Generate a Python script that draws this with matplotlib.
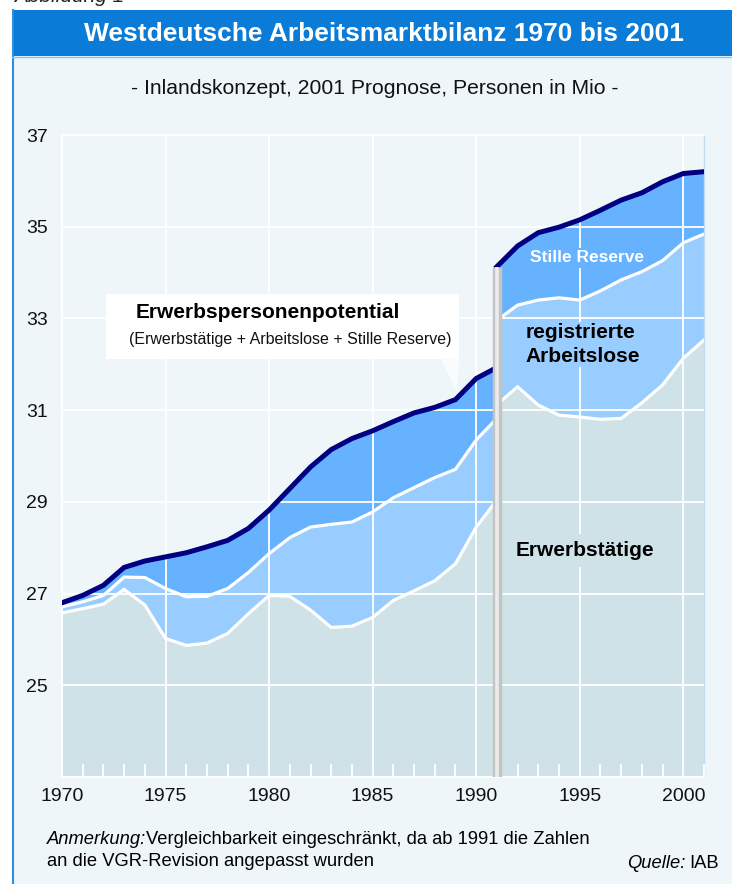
"""
Westdeutsche Arbeitsmarktbilanz 1970 bis 2001 -- Flächendiagramm
"""

import matplotlib

matplotlib.use("Agg")
import matplotlib.pyplot as plt
from matplotlib.patches import Rectangle, Polygon
from matplotlib.ticker import MultipleLocator

plt.rcParams["font.family"] = ["Liberation Sans", "DejaVu Sans"]

# ── Daten (Personen in Mio) ─────────────────────────────────
years_old = list(range(1970, 1992))
years_new = list(range(1991, 2002))

# vor der VGR-Revision (1970-1991)
potential_old = [26.80, 26.96, 27.18, 27.57, 27.71, 27.80, 27.89, 28.02, 28.16, 28.42, 28.82,
                 29.29, 29.76, 30.14, 30.38, 30.55, 30.75, 30.94, 31.06, 31.23, 31.69, 31.93]
erw_al_old = [26.71, 26.82, 26.96, 27.36, 27.35, 27.11, 26.93, 26.94, 27.11, 27.46, 27.87,
              28.22, 28.45, 28.51, 28.56, 28.78, 29.09, 29.31, 29.53, 29.71, 30.35, 30.82]
erwerbstaetige_old = [26.58, 26.67, 26.77, 27.09, 26.75, 26.02, 25.87, 25.92, 26.13, 26.56, 26.96,
                      26.94, 26.64, 26.26, 26.29, 26.48, 26.85, 27.06, 27.28, 27.65, 28.45, 29.04]

# nach der VGR-Revision (1991-2001, 2001 Prognose)
potential_new = [34.13, 34.58, 34.87, 34.99, 35.15, 35.36, 35.58, 35.74, 35.98, 36.16, 36.20]
erw_al_new = [32.96, 33.29, 33.40, 33.45, 33.40, 33.60, 33.84, 34.02, 34.26, 34.65, 34.84]
erwerbstaetige_new = [31.12, 31.51, 31.11, 30.89, 30.85, 30.80, 30.82, 31.16, 31.55, 32.13, 32.53]

C_BG = "#EEF6FA"
C_TITLE = "#0A7CD8"
C_ERW = "#CFE2E8"
C_AL = "#99CCFF"
C_SR = "#66B2FF"
C_NAVY = "#000080"

W, H = 732, 884


def px(x):
    return x / W


def py(y):
    return 1 - y / H


fig = plt.figure(figsize=(W / 100, H / 100), dpi=100, facecolor="white")

# ── Rahmen, Titelbalken ─────────────────────────────────────
fig.patches.append(Rectangle((px(12), 0), 1 - px(12), py(56), transform=fig.transFigure,
                             facecolor=C_BG, edgecolor="none", zorder=-2))
fig.patches.append(Rectangle((px(12), py(56)), 1 - px(12), py(10) - py(56),
                             transform=fig.transFigure, facecolor=C_TITLE,
                             edgecolor="none", zorder=-2))
fig.lines.append(plt.Line2D([px(13), px(13)], [0, py(10)], transform=fig.transFigure,
                            color="#2A8FE0", linewidth=1.5, zorder=-1))
fig.lines.append(plt.Line2D([px(12), 1], [py(56.5), py(56.5)], transform=fig.transFigure,
                            color="#8CC4EE", linewidth=1, zorder=-1))

fig.text(px(14), py(2), "Abbildung 1", fontsize=15, style="italic", color="#222222",
         va="baseline", ha="left")
fig.text(px(384), py(34), "Westdeutsche Arbeitsmarktbilanz 1970 bis 2001",
         fontsize=19, fontweight="bold", color="white", ha="center", va="center")
fig.text(px(375), py(88), "- Inlandskonzept, 2001 Prognose, Personen in Mio -",
         fontsize=15.2, color="#111111", ha="center", va="center")

# ── Diagramm ────────────────────────────────────────────────
ax = fig.add_axes([px(62), py(777), px(704) - px(62), py(135) - py(777)])
ax.set_facecolor(C_BG)

for yrs, erw, eal, pot in [
    (years_old, erwerbstaetige_old, erw_al_old, potential_old),
    (years_new, erwerbstaetige_new, erw_al_new, potential_new),
]:
    ax.fill_between(yrs, 23, erw, color=C_ERW, linewidth=0, zorder=1)
    ax.fill_between(yrs, erw, eal, color=C_AL, linewidth=0, zorder=1)
    ax.fill_between(yrs, eal, pot, color=C_SR, linewidth=0, zorder=1)
    ax.plot(yrs, erw, color="white", linewidth=2.3, zorder=3, solid_joinstyle="miter")
    ax.plot(yrs, eal, color="white", linewidth=2.3, zorder=3, solid_joinstyle="miter")
    ax.plot(yrs, pot, color=C_NAVY, linewidth=3.6, zorder=3, solid_joinstyle="miter")

# Bruch 1991 (VGR-Revision)
ax.plot([1991, 1991], [23, potential_new[0]], color="#C4C4C4", linewidth=6.8,
        solid_capstyle="butt", zorder=4)
ax.plot([1991, 1991], [23, potential_new[0]], color="#ECECEC", linewidth=2.6,
        solid_capstyle="butt", zorder=4)

ax.set_xlim(1970, 2001)
ax.set_ylim(23, 37)
ax.set_xticks(range(1970, 2001, 5))
ax.set_yticks(range(25, 38, 2))
ax.xaxis.set_minor_locator(MultipleLocator(1))
ax.set_axisbelow(False)
ax.grid(True, which="major", color="white", linewidth=1.3)
ax.tick_params(which="major", length=0, labelsize=14, colors="#111111")
ax.tick_params(axis="x", which="major", pad=8)
ax.tick_params(axis="y", which="major", pad=10)
ax.tick_params(axis="x", which="minor", direction="in", length=9.5, width=1.3, color="white")
for s in ["left", "bottom", "top"]:
    ax.spines[s].set_color("white")
    ax.spines[s].set_linewidth(1.5)
ax.spines["right"].set_color("#BFDDF0")
ax.spines["right"].set_linewidth(1)

# Callout Erwerbspersonenpotential
ax.add_patch(Rectangle((1972.13, 32.11), 1989.19 - 1972.13, 33.53 - 32.11,
                       facecolor="white", edgecolor="none", zorder=5))
ax.add_patch(Polygon([(1988.3, 32.12), (1989.19, 32.12), (1989.05, 31.4)], closed=True,
                     facecolor="white", edgecolor="none", alpha=0.7, zorder=5))
ax.text(1979.96, 33.14, "Erwerbspersonenpotential", fontsize=15, fontweight="bold",
        ha="center", va="center", zorder=6)
ax.text(1981.0, 32.55, "(Erwerbstätige + Arbeitslose + Stille Reserve)", fontsize=11.5,
        ha="center", va="center", zorder=6, color="#111111")

# Flächenbeschriftungen
ax.text(1995.33, 34.32, "Stille Reserve", fontsize=12.5, fontweight="bold", color="white",
        ha="center", va="center", zorder=6,
        bbox=dict(facecolor=C_SR, edgecolor="none", pad=2))
ax.text(1992.4, 32.43, "registrierte\nArbeitslose", fontsize=15, fontweight="bold",
        ha="left", va="center", linespacing=1.3, zorder=6,
        bbox=dict(facecolor=C_AL, edgecolor="none", pad=1))
ax.text(1995.23, 27.94, "Erwerbstätige", fontsize=15, fontweight="bold",
        ha="center", va="center", zorder=6,
        bbox=dict(facecolor=C_ERW, edgecolor="none", pad=5))

# ── Fußnoten ────────────────────────────────────────────────
fig.text(px(47), py(839), "Anmerkung:", fontsize=13.2, style="italic", va="center", ha="left")
fig.text(px(146), py(839), "Vergleichbarkeit eingeschränkt, da ab 1991 die Zahlen",
         fontsize=13.2, va="center", ha="left")
fig.text(px(47), py(862), "an die VGR-Revision angepasst wurden", fontsize=13.2,
         va="center", ha="left")
fig.text(px(685), py(864), "Quelle:", fontsize=13.2, style="italic", va="center", ha="right")
fig.text(px(689), py(864), "IAB", fontsize=13.2, va="center", ha="left")

fig.savefig("out.png", dpi=100, facecolor="white")
plt.close(fig)
